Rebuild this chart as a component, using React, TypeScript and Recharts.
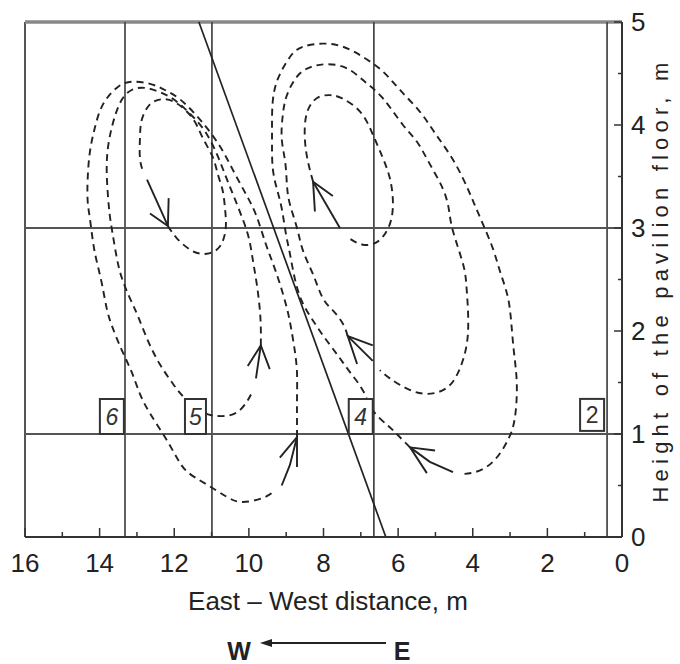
import React from 'react'
import { LineChart, Line, XAxis, YAxis, ReferenceLine, ReferenceDot } from 'recharts'

// axis ticks
const X_TICKS = [0, 1, 2, 3, 4, 5, 6, 7, 8, 9, 10, 11, 12, 13, 14, 15, 16]
const Y_TICKS = [0, 0.5, 1, 1.5, 2, 2.5, 3, 3.5, 4, 4.5, 5]

// section lines (m) and the sloped roof line
const SECTION_X = [13.32, 10.99, 6.65, 0.4]
const LEVEL_Y = [1, 3]
const SLOPE_X = [11.34, 6.33]
const SLOPE_Y = [5, 0]

// numbered sensor boxes, anchored at their lower right corner
const BOX_LABELS = ['6', '5', '4', '2']
const BOX_X = [13.35, 11.15, 6.68, 0.48]
const BOX_Y = [1, 1, 1, 1.03]

// left vortex, streamlines [x, y]
const L1 = [[12.17, 3.02], [11.93, 2.9], [11.53, 2.78], [11.13, 2.75], [10.78, 2.82], [10.62, 3.0], [10.64, 3.19], [10.7, 3.36], [10.83, 3.52], [10.97, 3.69], [11.23, 3.87], [11.5, 4.06], [11.93, 4.21], [12.31, 4.25], [12.65, 4.2], [12.87, 4.05], [12.92, 3.87], [12.92, 3.68], [12.84, 3.55]]
const L1_SHAFT = [[12.73, 3.47], [12.17, 3.02]]
const L1_HEAD = [[12.65, 3.14], [12.17, 3.02], [12.15, 3.29]]

const L2 = [[9.68, 1.86], [9.68, 2.03], [9.71, 2.22], [9.79, 2.46], [9.89, 2.68], [10.0, 2.9], [10.19, 3.11], [10.43, 3.33], [10.64, 3.52], [10.86, 3.72], [11.18, 3.94], [11.58, 4.11], [11.98, 4.24], [12.39, 4.32], [12.79, 4.36], [13.14, 4.34], [13.43, 4.23], [13.65, 4.01], [13.78, 3.77], [13.81, 3.55], [13.78, 3.33], [13.73, 3.13], [13.65, 2.94], [13.54, 2.71], [13.4, 2.51], [13.19, 2.32], [12.98, 2.15], [12.71, 1.91], [12.39, 1.68], [12.04, 1.49], [11.72, 1.35], [11.31, 1.23], [10.97, 1.18], [10.43, 1.19], [10.08, 1.3], [9.92, 1.4]]
const L2_SHAFT = [[9.81, 1.54], [9.68, 1.86]]
const L2_HEAD = [[10.03, 1.66], [9.68, 1.86], [9.44, 1.63]]

const L3 = [[8.71, 0.97], [8.71, 1.16], [8.71, 1.35], [8.71, 1.59], [8.77, 1.81], [8.87, 2.03], [8.98, 2.22], [9.17, 2.46], [9.38, 2.68], [9.57, 2.87], [9.79, 3.11], [10.05, 3.31], [10.38, 3.53], [10.72, 3.76], [11.1, 3.96], [11.45, 4.11], [11.85, 4.25], [12.25, 4.34], [12.65, 4.4], [13.11, 4.42], [13.51, 4.37], [13.91, 4.2], [14.13, 3.97], [14.26, 3.74], [14.32, 3.48], [14.32, 3.26], [14.26, 3.09], [14.18, 2.87], [14.08, 2.68], [13.94, 2.46], [13.81, 2.22], [13.65, 2.03], [13.4, 1.81], [13.14, 1.6], [12.92, 1.39], [12.65, 1.2], [12.25, 0.97], [11.93, 0.77], [11.64, 0.63], [11.13, 0.51], [10.59, 0.39], [10.16, 0.34], [9.62, 0.38], [9.3, 0.45]]
const L3_SHAFT = [[9.12, 0.5], [8.9, 0.7], [8.71, 0.97]]
const L3_HEAD = [[9.17, 0.77], [8.71, 0.97], [8.71, 0.68]]

// right vortex, streamlines [x, y]
const R1 = [[8.28, 3.45], [8.42, 3.65], [8.5, 3.87], [8.45, 4.11], [8.18, 4.26], [7.83, 4.29], [7.51, 4.26], [7.02, 4.13], [6.68, 3.91], [6.41, 3.68], [6.22, 3.48], [6.14, 3.26], [6.22, 3.04], [6.54, 2.87], [6.97, 2.84], [7.35, 2.91]]
const R1_SHAFT = [[7.56, 3.0], [8.28, 3.45]]
const R1_HEAD = [[7.75, 3.31], [8.28, 3.45], [8.23, 3.16]]

const R2 = [[7.35, 1.95], [7.48, 2.07], [7.75, 2.2], [8.02, 2.32], [8.28, 2.55], [8.55, 2.78], [8.71, 3.0], [8.9, 3.23], [8.98, 3.42], [9.03, 3.65], [9.12, 3.87], [9.09, 4.1], [8.98, 4.29], [8.71, 4.47], [8.36, 4.56], [7.91, 4.59], [7.37, 4.55], [6.89, 4.42], [6.41, 4.26], [5.87, 4.0], [5.5, 3.84], [5.15, 3.62], [4.8, 3.38], [4.64, 3.18], [4.53, 2.97], [4.26, 2.65], [4.16, 2.39], [4.13, 1.97], [4.34, 1.64], [4.69, 1.45], [5.23, 1.39], [5.76, 1.44], [6.22, 1.54], [6.49, 1.62]]
const R2_SHAFT = [[6.68, 1.71], [7.35, 1.95]]
const R2_HEAD = [[6.68, 1.86], [7.35, 1.95], [7.1, 1.68]]

const R3 = [[5.68, 0.87], [6.01, 0.99], [6.27, 1.08], [6.68, 1.23], [6.94, 1.42], [7.29, 1.6], [7.61, 1.76], [7.96, 1.93], [8.28, 2.1], [8.58, 2.29], [8.77, 2.51], [8.9, 2.75], [9.01, 2.95], [9.12, 3.19], [9.25, 3.38], [9.36, 3.58], [9.38, 3.81], [9.38, 4.0], [9.36, 4.23], [9.22, 4.45], [8.9, 4.66], [8.55, 4.76], [8.02, 4.79], [7.48, 4.76], [6.94, 4.66], [6.41, 4.52], [5.95, 4.34], [5.42, 4.13], [5.01, 3.92], [4.61, 3.71], [4.26, 3.48], [3.99, 3.26], [3.73, 3.04], [3.46, 2.8], [3.27, 2.58], [3.08, 2.36], [2.98, 2.13], [2.9, 1.81], [2.82, 1.49], [2.87, 1.16], [3.06, 0.94], [3.46, 0.73], [3.94, 0.63], [4.34, 0.61]]
const R3_SHAFT = [[4.53, 0.63], [5.15, 0.73], [5.68, 0.87]]
const R3_HEAD = [[5.01, 0.84], [5.68, 0.87], [5.23, 0.62]]

const STREAMS = [L1, L2, L3, R1, R2, R3]
const ARROWS = [L1_SHAFT, L1_HEAD, L2_SHAFT, L2_HEAD, L3_SHAFT, L3_HEAD, R1_SHAFT, R1_HEAD, R2_SHAFT, R2_HEAD, R3_SHAFT, R3_HEAD]

const toPoints = (a: number[][]) => a.map(([x, y]) => ({ x, y }))

const FONT = '"Liberation Sans", Arial, sans-serif'
const INK = '#222'

const XTick = (props: any) => {
  const { x, y, payload } = props
  const v = payload.value
  const major = v % 2 === 0
  return (
    <g>
      <line x1={x} x2={x} y1={y} y2={y - (major ? 9 : 5)} stroke="#333" strokeWidth={1.5} />
      {major && (
        <text x={x} y={y + 35} textAnchor="middle" fontSize={26} fill={INK} fontFamily={FONT}>
          {v}
        </text>
      )}
    </g>
  )
}

const YTick = (props: any) => {
  const { x, y, payload } = props
  const v = payload.value
  const major = Number.isInteger(v)
  return (
    <g>
      <line x1={x} x2={x - (major ? 8 : 4)} y1={y} y2={y} stroke="#333" strokeWidth={1.5} />
      {major && (
        <text x={x + 9} y={y + 9} textAnchor="start" fontSize={26} fill={INK} fontFamily={FONT}>
          {v}
        </text>
      )}
    </g>
  )
}

const boxShape = (label: string, italic: boolean, w: number, h: number) => (props: any) => {
  const { cx, cy } = props
  return (
    <g>
      <rect x={cx - w} y={cy - h} width={w} height={h} fill="#fff" stroke="#333" strokeWidth={2} />
      <text x={cx - w / 2} y={cy - h / 2 + 8} textAnchor="middle" fontSize={23} fill="#333" fontStyle={italic ? 'italic' : 'normal'} fontFamily={FONT}>
        {label}
      </text>
    </g>
  )
}

export default function App() {
  return (
    <div style={{ position: 'relative', width: 680, height: 664, background: '#fff', fontFamily: FONT }}>
      <style>{'body{margin:0}'}</style>
      <LineChart width={680} height={664} margin={{ top: 22, left: 25, right: 0, bottom: 87 }}>
        <XAxis type="number" dataKey="x" domain={[0, 16]} reversed ticks={X_TICKS} interval={0} height={40} tickSize={0} tickMargin={0} tickLine={false} tick={<XTick />} axisLine={{ stroke: '#333', strokeWidth: 2 }} allowDataOverflow />
        <YAxis type="number" dataKey="y" orientation="right" domain={[0, 5]} ticks={Y_TICKS} interval={0} width={58} tickSize={0} tickMargin={0} tickLine={false} tick={<YTick />} axisLine={{ stroke: '#333', strokeWidth: 2 }} allowDataOverflow />

        <ReferenceLine x={16} stroke="#555" strokeWidth={2} />
        <ReferenceLine y={5} stroke="#888" strokeWidth={3.5} />
        {SECTION_X.map((v) => (
          <ReferenceLine key={'sx' + v} x={v} stroke="#444" strokeWidth={1.7} />
        ))}
        {LEVEL_Y.map((v) => (
          <ReferenceLine key={'ly' + v} y={v} stroke="#555" strokeWidth={1.9} />
        ))}
        <ReferenceLine
          segment={[
            { x: SLOPE_X[0], y: SLOPE_Y[0] },
            { x: SLOPE_X[1], y: SLOPE_Y[1] },
          ]}
          stroke={INK}
          strokeWidth={1.7}
        />

        {STREAMS.map((s, i) => (
          <Line key={'s' + i} data={toPoints(s)} dataKey="y" type="natural" stroke="#222" strokeWidth={1.9} strokeDasharray="7 5" dot={false} activeDot={false} isAnimationActive={false} />
        ))}
        {ARROWS.map((s, i) => (
          <Line key={'a' + i} data={toPoints(s)} dataKey="y" type="linear" stroke={INK} strokeWidth={1.9} dot={false} activeDot={false} isAnimationActive={false} />
        ))}

        {BOX_LABELS.map((lab, i) => (
          <ReferenceDot key={'b' + lab} x={BOX_X[i]} y={BOX_Y[i]} r={1} shape={boxShape(lab, lab !== '2', lab === '5' ? 21 : 24, lab === '2' ? 32 : 35)} />
        ))}
      </LineChart>

      <svg width={680} height={664} style={{ position: 'absolute', left: 0, top: 0, pointerEvents: 'none' }}>
        <text x={328} y={610} textAnchor="middle" fontSize={26} fill={INK} fontFamily={FONT}>
          East – West distance, m
        </text>
        <text x={660} y={280} transform="rotate(-90 660 280)" textAnchor="middle" dominantBaseline="central" fontSize={22} letterSpacing={5.2} fill={INK} fontFamily={FONT}>
          Height of the pavilion floor, m
        </text>
        <text x={239} y={660} textAnchor="middle" fontSize={25} fontWeight={600} fill={INK} fontFamily={FONT}>W</text>
        <line x1={386} x2={268} y1={643} y2={643} stroke={INK} strokeWidth={2} />
        <polygon points="260,643 272,639 272,647" fill={INK} />
        <text x={402} y={660} textAnchor="middle" fontSize={25} fontWeight={600} fill={INK} fontFamily={FONT}>E</text>
      </svg>
    </div>
  )
}
